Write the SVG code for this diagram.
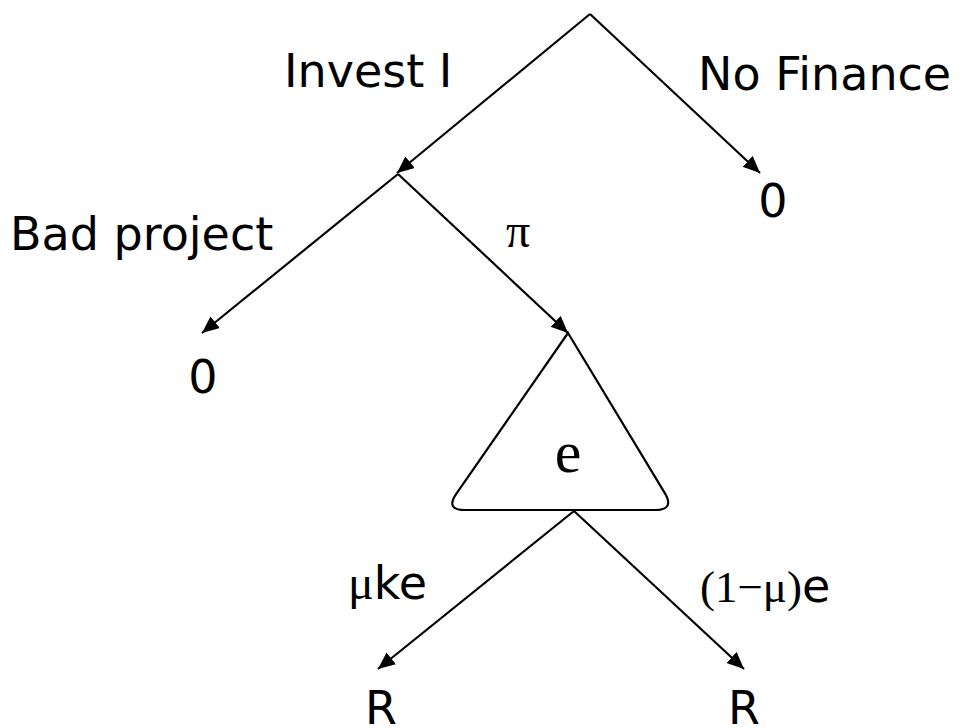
<svg xmlns="http://www.w3.org/2000/svg" width="970" height="728" viewBox="0 0 970 728">
  <style>
    .edge { stroke: #000; stroke-width: 2.2; fill: none; marker-end: url(#head); }
    .plain { stroke: #000; stroke-width: 2.2; fill: none; }
    .sans { font-family: "DejaVu Sans", Verdana, sans-serif; font-size: 46px; fill: #000; }
    .serif { font-family: "Liberation Serif", "Times New Roman", serif; fill: #000; }
  </style>
  <defs>
    <marker id="head" markerUnits="userSpaceOnUse" markerWidth="18" markerHeight="16" refX="17" refY="7.5" orient="auto">
      <path d="M0,0 L17,7.5 L0,15 Z" fill="#000"/>
    </marker>
  </defs>
  <rect width="970" height="728" fill="#fff"/>

  <!-- branches of the game tree -->
  <g id="connectors">
    <line class="edge" x1="590" y1="14" x2="397" y2="173"/>
    <line class="edge" x1="590" y1="14" x2="760" y2="173"/>
    <line class="edge" x1="398" y1="174" x2="202" y2="333"/>
    <line class="edge" x1="398" y1="174" x2="568" y2="333"/>
    <line class="edge" x1="574" y1="511" x2="378" y2="669"/>
    <line class="edge" x1="574" y1="511" x2="744" y2="669"/>
  </g>

  <!-- branch labels -->
  <g id="labels">
    <text class="sans" x="284" y="87">Invest I</text>
    <text class="sans" x="698" y="90">No Finance</text>
    <text class="sans" x="10" y="250">Bad project</text>
    <text class="serif" x="506" y="247" font-size="48">π</text>
    <text x="348" y="599"><tspan class="serif" font-size="48">μ</tspan><tspan class="sans">ke</tspan></text>
    <text x="700" y="602"><tspan class="serif" font-size="45">(1−μ)</tspan><tspan class="sans">e</tspan></text>
  </g>

  <!-- payoffs -->
  <g id="payoff-no-finance"><text class="sans" x="773" y="217" text-anchor="middle">0</text></g>
  <g id="payoff-bad-project"><text class="sans" x="203" y="393" text-anchor="middle">0</text></g>
  <g id="payoff-left"><text class="sans" x="381" y="724" text-anchor="middle">R</text></g>
  <g id="payoff-right"><text class="sans" x="744" y="724" text-anchor="middle">R</text></g>

  <!-- effort choice subgame -->
  <g id="effort">
    <path class="plain" stroke-width="2" d="M568,333 L456.4,493.6 Q445,510 465,510 L655,510 Q675,510 664.7,492.9 Z"/>
    <text class="serif" x="568" y="472" font-size="60" text-anchor="middle">e</text>
  </g>
</svg>
